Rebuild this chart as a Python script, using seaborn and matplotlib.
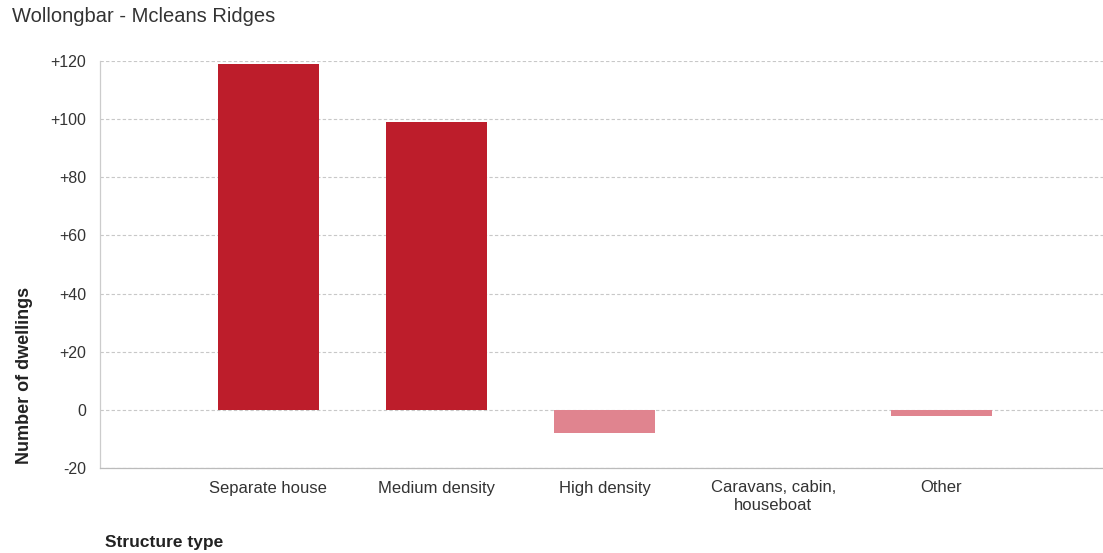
import matplotlib
matplotlib.use("Agg")
import matplotlib.pyplot as plt
import seaborn as sns
import pandas as pd

# %%
categories = ["Separate house", "Medium density", "High density", "Caravans, cabin,\nhouseboat", "Other"]
change = [119, 99, -8, 0, -2]
y_ticks = [-20, 0, 20, 40, 60, 80, 100, 120]
y_tick_labels = ["-20", "0", "+20", "+40", "+60", "+80", "+100", "+120"]

df = pd.DataFrame({"Structure": categories, "Change": change})

sns.set_style("white")
plt.rcParams['font.family'] = ['Liberation Sans', 'DejaVu Sans']

RED = "#bd1d2b"
PINK = "#e0848f"
bar_colors = [RED if v >= 0 else PINK for v in change]

fig = plt.figure(figsize=(11.03, 5.53), dpi=100)
ax = fig.add_axes([100 / 1103, 1 - 468 / 553, 1 - 100 / 1103, (468 - 61) / 553])

sns.barplot(data=df, x="Structure", y="Change", hue="Structure", palette=bar_colors,
            legend=False, width=0.6, saturation=1, linewidth=0, ax=ax, zorder=3)

#------------------------
# axes styling
#------------------------
ax.set_ylim(-20, 120)
ax.set_xlim(-1.0, 4.96)
ax.set_yticks(y_ticks)
ax.set_yticklabels(y_tick_labels)
ax.yaxis.grid(True, linestyle=(0, (3, 2)), color="#c8c8c8", linewidth=0.8, zorder=0)
ax.xaxis.grid(False)
for s in ["top", "right"]:
    ax.spines[s].set_visible(False)
ax.spines["left"].set_color("#cccccc")
ax.spines["bottom"].set_color("#bbbbbb")
ax.spines["left"].set_linewidth(0.9)
ax.spines["bottom"].set_linewidth(0.9)
ax.tick_params(axis="x", length=4, color="#cccccc", labelsize=12, labelcolor="#333333", pad=5)
ax.tick_params(axis="y", length=8, color="#cccccc", labelsize=11.5, labelcolor="#333333", pad=2)
ax.set_xlabel("")
ax.set_ylabel("Number of dwellings", fontsize=13, fontweight="bold", color="#222222")
ax.yaxis.set_label_coords(-0.067, 0.228)

fig.text(12 / 1103, 1 - 17 / 553, "Wollongbar - Mcleans Ridges", fontsize=14.5, color="#333333",
         ha="left", va="center")
fig.text(105 / 1103, 1 - 543 / 553, "Structure type", fontsize=12.5, fontweight="bold",
         color="#222222", ha="left", va="center")

fig.savefig("out.png", dpi=100)
